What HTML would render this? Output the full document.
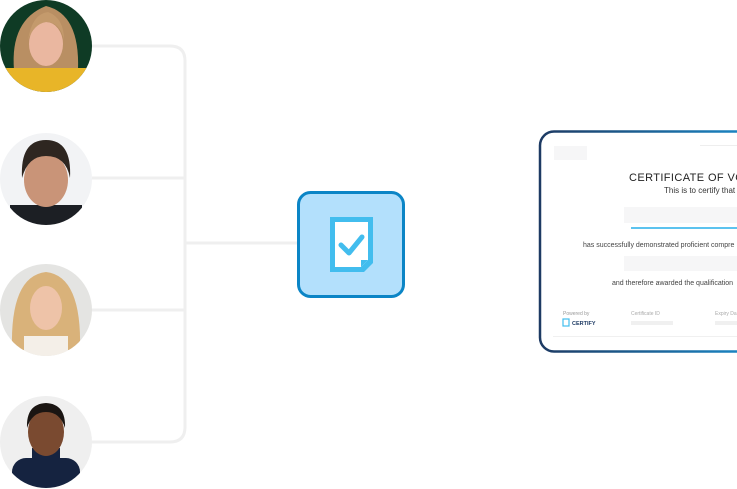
<!DOCTYPE html>
<html><head><meta charset="utf-8"><style>
html,body{margin:0;padding:0;background:#fff;width:737px;height:489px;overflow:hidden}
svg{display:block}
text{font-family:"Liberation Sans",sans-serif}
</style></head><body>
<svg width="737" height="489" viewBox="0 0 737 489" xmlns="http://www.w3.org/2000/svg">
<defs>
<linearGradient id="cb" x1="0" y1="0" x2="1" y2="0">
<stop offset="0" stop-color="#1d3a63"/><stop offset="1" stop-color="#1a8fd0"/></linearGradient>
<linearGradient id="ln" x1="0" y1="0" x2="1" y2="0">
<stop offset="0" stop-color="#1d3a63"/><stop offset="1" stop-color="#1a8fd0"/></linearGradient>
<clipPath id="c1"><circle cx="46" cy="46" r="46"/></clipPath>
<clipPath id="c2"><circle cx="46" cy="179" r="46"/></clipPath>
<clipPath id="c3"><circle cx="46" cy="310" r="46"/></clipPath>
<clipPath id="c4"><circle cx="46" cy="442" r="46"/></clipPath>
</defs>
<g fill="none" stroke="#efefef" stroke-width="3">
<path d="M92 46 H170 Q185 46 185 61 V427 Q185 442 170 442 H92"/>
<path d="M92 178 H185 M92 310 H185 M185 243 H297"/>
</g>
<path d="M404 241 H540" stroke="url(#ln)" stroke-width="3"/>
<g clip-path="url(#c1)">
<rect x="0" y="0" width="92" height="92" fill="#0f3b25"/>
<path d="M14 70 Q10 20 46 6 Q80 14 78 70 Z" fill="#b98f63"/>
<rect x="0" y="68" width="92" height="30" fill="#e8b528"/>
<ellipse cx="46" cy="44" rx="17" ry="22" fill="#eab7a0"/>
<path d="M28 40 Q32 14 48 12 Q64 18 64 40 Q60 22 46 22 Q34 24 28 40Z" fill="#c49a6c"/>
</g>
<g clip-path="url(#c2)">
<rect x="0" y="133" width="92" height="92" fill="#f2f3f5"/>
<rect x="10" y="205" width="72" height="25" fill="#1c1f24"/>
<ellipse cx="46" cy="180" rx="22" ry="27" fill="#c99478"/>
<path d="M22 178 Q20 140 46 140 Q72 140 70 178 Q66 156 46 156 Q28 156 22 178Z" fill="#2e2620"/>
</g>
<g clip-path="url(#c3)">
<rect x="0" y="264" width="92" height="92" fill="#e4e4e2"/>
<path d="M12 350 Q10 276 46 272 Q82 276 80 350 Z" fill="#d9b27a"/>
<rect x="24" y="336" width="44" height="22" fill="#f4efe8"/>
<ellipse cx="46" cy="308" rx="16" ry="22" fill="#eec3a8"/>
</g>
<g clip-path="url(#c4)">
<rect x="0" y="396" width="92" height="92" fill="#efefef"/>
<rect x="12" y="458" width="68" height="32" rx="14" fill="#152340"/>
<rect x="32" y="448" width="28" height="20" fill="#152340"/>
<ellipse cx="46" cy="432" rx="18" ry="24" fill="#7a4a30"/>
<path d="M27 428 Q26 404 46 403 Q66 404 65 428 Q60 412 46 412 Q32 412 27 428Z" fill="#1a1512"/>
</g>
<rect x="298.5" y="192.5" width="105" height="104" rx="12" fill="#b3e0fc" stroke="#0b85c6" stroke-width="3"/>
<path d="M330 217 H373 V263 L364 272 H330 Z" fill="#42bdee"/>
<path d="M335 222 H368 V260 L361 267 H335 Z" fill="#fff"/>
<path d="M361 267 V260 H368 Z" fill="#42bdee"/>
<path d="M341 245 L349 253 L362 237" fill="none" stroke="#42bdee" stroke-width="5" stroke-linecap="round" stroke-linejoin="round"/>
<rect x="540" y="131.5" width="230" height="220" rx="14" fill="#fff" stroke="url(#cb)" stroke-width="2.5"/>
<rect x="554" y="146" width="33" height="14" fill="#f6f6f7"/>
<rect x="700" y="145" width="37" height="1" fill="#eee"/>
<text x="629" y="181" font-size="11" letter-spacing="0.4" fill="#222">CERTIFICATE OF VOCA</text>
<text x="664" y="193" font-size="8" fill="#333">This is to certify that</text>
<rect x="624" y="207" width="113" height="16" fill="#f6f6f7"/>
<rect x="631" y="227" width="106" height="2" fill="#5cc3ef"/>
<text x="583" y="247" font-size="7" fill="#444">has successfully demonstrated proficient compre</text>
<rect x="624" y="256" width="113" height="15" fill="#f6f6f7"/>
<text x="612" y="285" font-size="7" fill="#444">and therefore awarded the qualification</text>
<text x="563" y="315" font-size="5" fill="#999">Powered by</text>
<rect x="563" y="319" width="6" height="7" fill="none" stroke="#42bdee" stroke-width="1.2"/>
<text x="572" y="325" font-size="5.5" font-weight="bold" fill="#1d3a63">CERTIFY</text>
<text x="631" y="315" font-size="5" fill="#aaa">Certificate ID</text>
<rect x="631" y="321" width="42" height="4" fill="#f0f0f0"/>
<text x="715" y="315" font-size="5" fill="#aaa">Expiry Da</text>
<rect x="715" y="321" width="22" height="4" fill="#f0f0f0"/>
<rect x="553" y="336" width="184" height="1" fill="#f0f0f0"/>
</svg>
</body></html>
